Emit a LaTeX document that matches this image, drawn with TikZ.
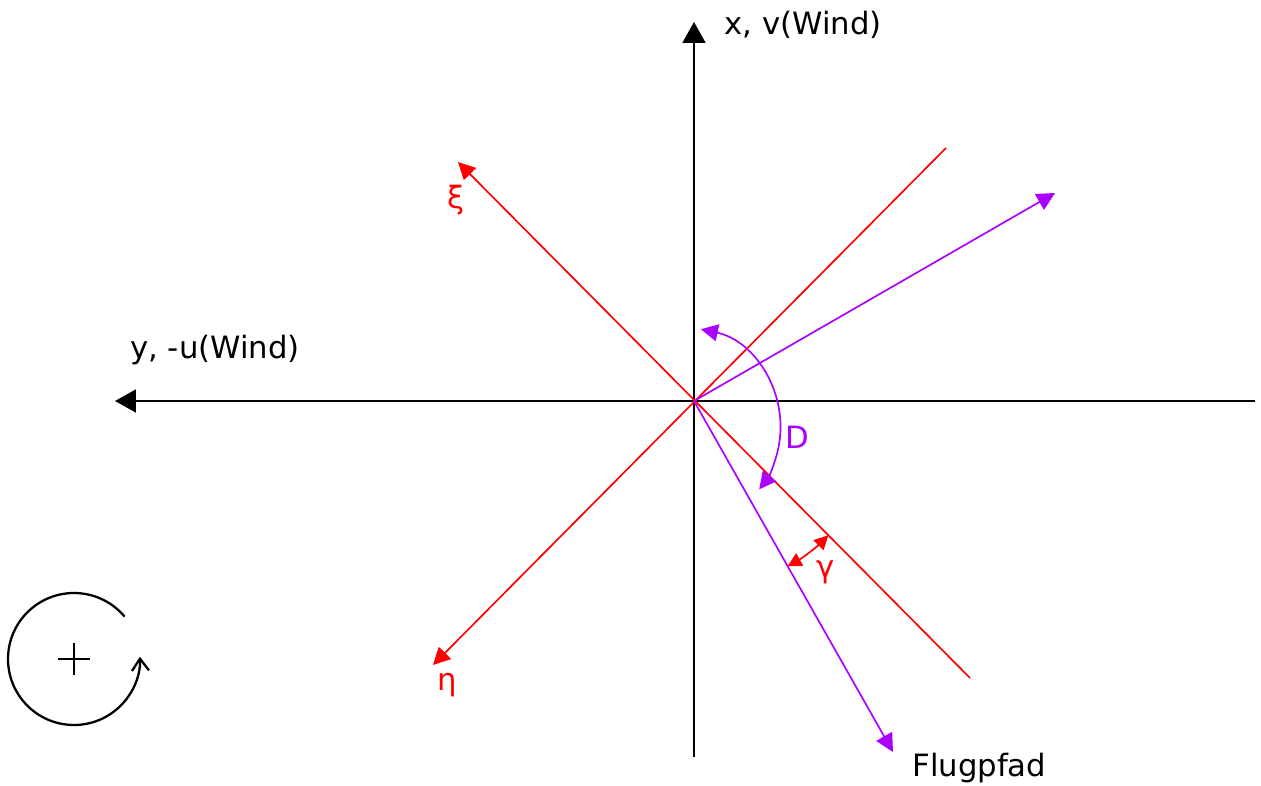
\documentclass[tikz,border=0pt]{standalone}
\usepackage{fontspec}
\setmainfont{DejaVu Sans}
\usepackage{tikz}
\usetikzlibrary{arrows.meta,positioning,calc}
\definecolor{flugviolett}{RGB}{170,0,255}
\definecolor{koordrot}{RGB}{255,0,0}

\begin{document}
\begin{tikzpicture}[x=0.02cm,y=0.02cm,
    achse/.style={line width=1.05pt,-{Triangle[length=0.42cm,width=0.46cm]}},
    rot/.style={koordrot,line width=0.95pt},
    violett/.style={flugviolett,line width=0.95pt},
    lbl/.style={font=\fontsize{17.5}{21}\selectfont,inner sep=0pt}]
  \useasboundingbox (0,0) rectangle (1261,785);
  \coordinate (O) at (694,384);
  % Achsen
  \coordinate (xtop) at (694,763);
  \coordinate (xbot) at (694,28);
  \coordinate (yleft) at (115,384);
  \coordinate (yright) at (1255,384);
  \draw[achse] (xbot) -- (xtop);
  \draw[achse] (yright) -- (yleft);
  \node[lbl,anchor=west] (xlab) at (724,760) {x, v(Wind)};
  \node[lbl] (ylab) at (215,435) {y, -u(Wind)};
  % xi/eta-System
  \coordinate (xi) at (458,623);
  \coordinate (xiend) at (970,107);
  \coordinate (eta) at (433,120);
  \coordinate (etaend) at (946,637);
  \draw[rot,-{Triangle[length=0.34cm,width=0.34cm]}] (xiend) -- (xi);
  \draw[rot,-{Triangle[length=0.34cm,width=0.34cm]}] (etaend) -- (eta);
  \node[lbl,text=koordrot] (xilab) at (456,585) {ξ};
  \node[lbl,text=koordrot] (etalab) at (447,100) {η};
  % Wind und Flugpfad
  \coordinate (wind) at (1055,592);
  \coordinate (flug) at (893,33);
  \draw[violett,-{Triangle[length=0.36cm,width=0.36cm]}] (O) -- (wind);
  \draw[violett,-{Triangle[length=0.36cm,width=0.36cm]}] (O) -- (flug);
  \node[lbl,anchor=west] (fluglab) at (912,17) {Flugpfad};
  % Winkel
  \coordinate (dmitte) at (680,357.5);
  \draw[violett,{Triangle[length=0.34cm,width=0.34cm]}-{Triangle[length=0.34cm,width=0.34cm]}]
    ($(dmitte)+(78:2.01cm)$) arc[start angle=78,end angle=-38,radius=2.01cm];
  \node[lbl,text=flugviolett] (dlab) at (797,348) {D};
  \draw[rot,{Triangle[length=0.28cm,width=0.28cm]}-{Triangle[length=0.28cm,width=0.28cm]}]
    ($(O)+(-60.5:3.8cm)$) arc[start angle=-60.5,end angle=-45,radius=3.8cm];
  \node[lbl,text=koordrot] (glab) at (826,213) {γ};
  % Drehsinn
  \coordinate (dreh) at (74,126);
  \draw[line width=1pt] (dreh) ++(-16,0) -- ++(32,0);
  \draw[line width=1pt] (dreh) ++(0,-16) -- ++(0,32);
  \draw[line width=1.3pt,-{Straight Barb[length=0.24cm,width=0.34cm]}]
    ($(dreh)+(40:1.32cm)$) arc[start angle=40,end angle=362,radius=1.32cm];
\end{tikzpicture}
\end{document}
